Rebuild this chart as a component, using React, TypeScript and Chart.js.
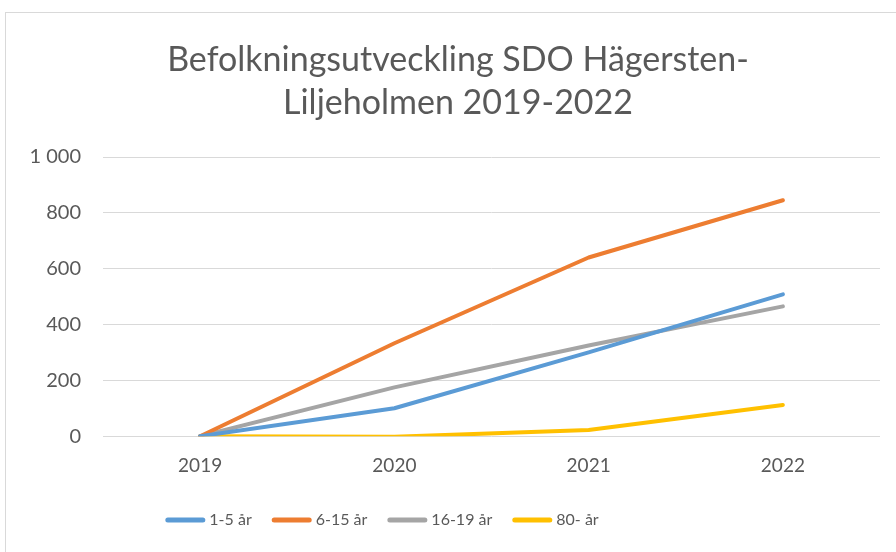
import React, { useEffect, useRef } from "react";
import { Chart, registerables } from "chart.js";

Chart.register(...registerables);

const categories = ["2019", "2020", "2021", "2022"];
const seriesNames = ["1-5 år", "6-15 år", "16-19 år", "80- år"];
const values1to5 = [0, 100, 300, 508];
const values6to15 = [0, 333, 640, 845];
const values16to19 = [0, 175, 325, 465];
const values80 = [0, -2, 22, 112];
const colors = ["#5B9BD5", "#ED7D31", "#A5A5A5", "#FFC000"];
const titleLines = ["Befolkningsutveckling SDO Hägersten-", "Liljeholmen 2019-2022"];

const FONT = "Lato, 'Open Sans', sans-serif";

const titlePlugin = {
  id: "excelTitle",
  afterDraw(chart: any) {
    const ctx = chart.ctx;
    ctx.save();
    ctx.font = `34px ${FONT}`;
    ctx.fillStyle = "#595959";
    ctx.textAlign = "center";
    ctx.textBaseline = "middle";
    titleLines.forEach((line, i) => ctx.fillText(line, 458, 60 + i * 43));
    ctx.restore();
  },
};

const legendPlugin = {
  id: "excelLegend",
  afterDraw(chart: any) {
    const ctx = chart.ctx;
    const fontSize = 16;
    ctx.save();
    ctx.font = `${fontSize}px ${FONT}`;
    const markerW = 40;
    const gapText = 4;
    const gapItem = 20;
    const items = chart.data.datasets.map((ds: any) => ({
      label: ds.label,
      color: ds.borderColor,
      w: markerW + gapText + ctx.measureText(ds.label).width,
    }));
    const total = items.reduce((a: number, it: any) => a + it.w, 0) + gapItem * (items.length - 1);
    let x = 382 - total / 2;
    const y = 520;
    for (const it of items) {
      ctx.strokeStyle = it.color;
      ctx.lineWidth = 5;
      ctx.lineCap = "round";
      ctx.beginPath();
      ctx.moveTo(x + 2.5, y);
      ctx.lineTo(x + markerW - 2.5, y);
      ctx.stroke();
      ctx.fillStyle = "#595959";
      ctx.textBaseline = "middle";
      ctx.textAlign = "left";
      ctx.fillText(it.label, x + markerW + gapText, y);
      x += it.w + gapItem;
    }
    ctx.restore();
  },
};

export default function App() {
  const ref = useRef<HTMLCanvasElement | null>(null);
  useEffect(() => {
    if (!ref.current) return;
    const all = [values1to5, values6to15, values16to19, values80];
    const chart = new Chart(ref.current, {
      type: "line",
      data: {
        labels: categories,
        datasets: all.map((d, i) => ({
          label: seriesNames[i],
          data: d,
          borderColor: colors[i],
          backgroundColor: colors[i],
          borderWidth: 4,
          pointRadius: 0,
          tension: 0,
          borderCapStyle: "round" as const,
          borderJoinStyle: "round" as const,
        })),
      },
      plugins: [titlePlugin, legendPlugin],
      options: {
        animation: false,
        responsive: false,
        layout: { padding: { left: 0, right: 16, top: 157, bottom: 65 } },
        plugins: {
          title: { display: false },
          legend: { display: false },
          tooltip: { enabled: false },
        },
        scales: {
          x: {
            offset: true,
            grid: { display: false },
            border: { display: false },
            ticks: { color: "#595959", font: { family: FONT, size: 19 }, padding: 10 },
          },
          y: {
            min: 0,
            max: 1000,
            afterFit: (s: any) => {
              s.width = 103;
            },
            grid: { color: "#d9d9d9", lineWidth: 1, drawTicks: false },
            border: { display: false },
            ticks: {
              stepSize: 200,
              color: "#595959",
              font: { family: FONT, size: 20 },
              padding: 22,
              callback: (v: any) => String(v).replace(/\B(?=(\d{3})+(?!\d))/g, " "),
            },
          },
        },
      },
    });
    return () => chart.destroy();
  }, []);
  return (
    <div style={{ position: "fixed", left: 0, top: 0, width: 896, height: 552, background: "#fff", overflow: "hidden" }}>
      <div
        style={{
          position: "absolute",
          left: 5,
          top: 12,
          width: 900,
          height: 600,
          border: "1px solid #d9d9d9",
          boxSizing: "border-box",
        }}
      />
      <canvas ref={ref} width={896} height={552} style={{ position: "absolute", left: 0, top: 0 }} />
    </div>
  );
}
